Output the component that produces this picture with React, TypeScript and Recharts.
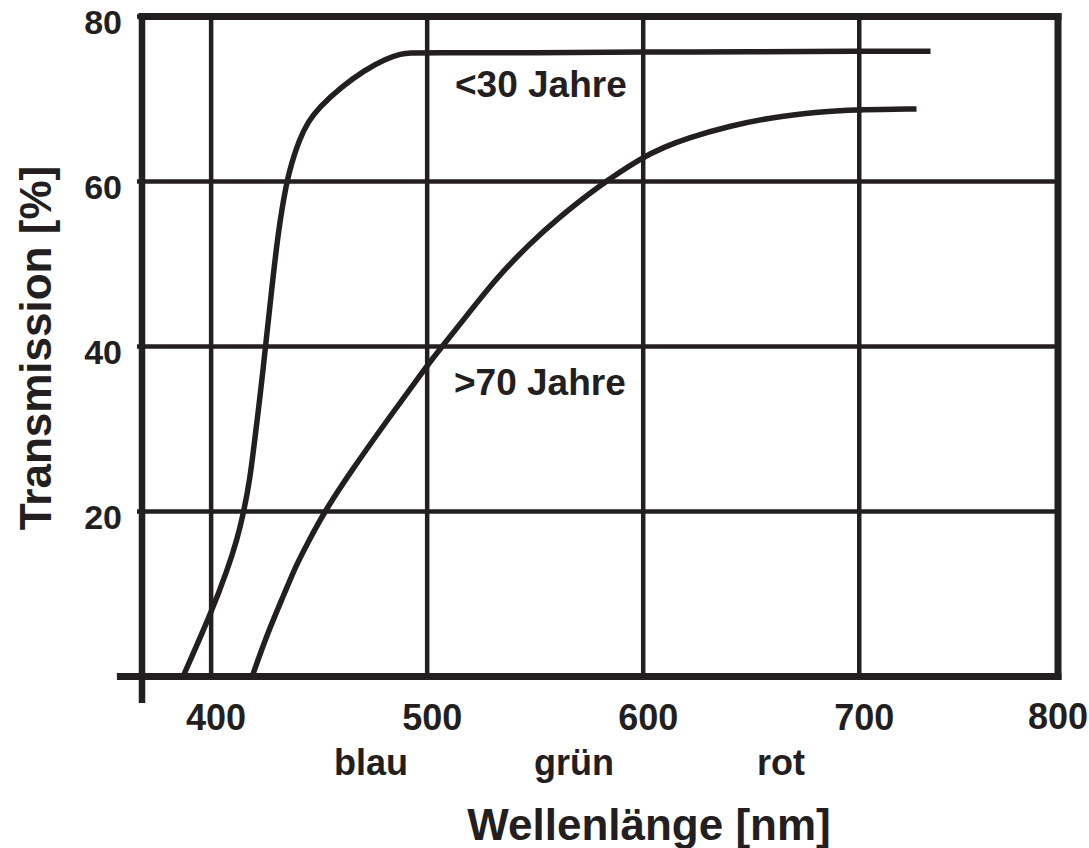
import { LineChart, Line, XAxis, YAxis, CartesianGrid, ReferenceLine } from "recharts"

const ink = "#231f20"
const font = "'Liberation Sans', Arial, Helvetica, sans-serif"

// axis setup (the drawn frame ends a bit before 800 nm, but is labelled 800)
const xMin = 368
const xMax = 792
const xTicks = [400, 500, 600, 700]
const xEndLabel = "800"
const yTicks = [20, 40, 60, 80]

// <30 Jahre
const wlUnder30 = [387, 400, 407.5, 412, 415, 418, 420, 423, 425, 427.5, 431, 435, 437, 441, 445, 450, 460, 471, 481, 488, 492, 500, 550, 600, 650, 700, 733]
const tUnder30 = [0, 7.7, 12.9, 16.6, 19.8, 24, 28.3, 34.7, 39.6, 45.6, 54, 60, 62, 65.2, 67.3, 69, 71.4, 73.5, 74.9, 75.5, 75.6, 75.6, 75.6, 75.7, 75.7, 75.8, 75.8]

// >70 Jahre
const wlOver70 = [419, 426, 434, 439, 444.5, 452.5, 464.5, 483, 500, 506, 517, 532, 548, 560, 578.5, 600, 610, 620, 639, 664, 690, 700, 726.5]
const tOver70 = [0, 5.2, 10.1, 13.3, 16.1, 20, 24.8, 31.6, 37.7, 39.7, 43.3, 48.3, 52.6, 55.4, 59.3, 63, 64.2, 65.2, 66.7, 68, 68.6, 68.7, 68.8]

const under30 = wlUnder30.map((wl, i) => ({ wl, t: tUnder30[i] }))
const over70 = wlOver70.map((wl, i) => ({ wl, t: tOver70[i] }))

const YTick = ({ x, y, payload }: any) => (
  <text x={x} y={y + 17} textAnchor="end" fontSize={34} fontWeight={700} fontFamily={font} fill={ink}>
    {payload.value}
  </text>
)

const XTick = ({ x, y, payload }: any) => (
  <text x={x + 5} y={y + 53.5} textAnchor="middle" fontSize={36} fontWeight={700} fontFamily={font} fill={ink}>
    {payload.value}
  </text>
)

const txt = { fontFamily: font, fontWeight: 700, fill: ink }

export default function App() {
  return (
    <div style={{ position: "absolute", left: 0, top: 0, width: 1089, height: 848, background: "#fff" }}>
      <LineChart width={1089} height={848} margin={{ top: 16.5, right: 31, left: 0, bottom: 111.5 }}>
        <CartesianGrid stroke={ink} strokeWidth={4.5} />
        <XAxis
          type="number"
          dataKey="wl"
          domain={[xMin, xMax]}
          ticks={xTicks}
          interval={0}
          allowDataOverflow
          axisLine={false}
          tickLine={false}
          tickSize={0}
          tickMargin={0}
          height={60}
          tick={<XTick />}
        />
        <YAxis
          type="number"
          domain={[0, 80]}
          ticks={yTicks}
          interval={0}
          width={142}
          axisLine={false}
          tickSize={5}
          tickMargin={15}
          tickLine={{ stroke: ink, strokeWidth: 4.5 }}
          tick={<YTick />}
        />
        <ReferenceLine y={80} stroke={ink} strokeWidth={7} strokeLinecap="square" />
        <ReferenceLine
          x={xMax}
          stroke={ink}
          strokeWidth={7}
          strokeLinecap="square"
          label={{ value: xEndLabel, position: "bottom", offset: 26.5, fill: ink, fontSize: 36, fontWeight: 700, fontFamily: font }}
        />
        <ReferenceLine
          segment={[{ x: xMin, y: -3.2 }, { x: xMin, y: 80 }]}
          ifOverflow="visible"
          stroke={ink}
          strokeWidth={6.5}
        />
        <ReferenceLine
          segment={[{ x: 358, y: 0 }, { x: xMax, y: 0 }]}
          ifOverflow="visible"
          stroke={ink}
          strokeWidth={7}
          strokeLinecap="square"
        />
        <Line data={under30} dataKey="t" type="basis" stroke={ink} strokeWidth={5.5} dot={false} isAnimationActive={false} />
        <Line data={over70} dataKey="t" type="basis" stroke={ink} strokeWidth={5.5} dot={false} isAnimationActive={false} />
      </LineChart>
      <svg width={1089} height={848} style={{ position: "absolute", left: 0, top: 0, pointerEvents: "none" }}>
        <text x={455} y={97} fontSize={37} {...txt}>&lt;30 Jahre</text>
        <text x={454} y={395} fontSize={37} {...txt}>&gt;70 Jahre</text>
        <text x={371} y={775} fontSize={36} textAnchor="middle" {...txt}>blau</text>
        <text x={574} y={775} fontSize={36} textAnchor="middle" {...txt}>grün</text>
        <text x={781} y={775} fontSize={36} textAnchor="middle" {...txt}>rot</text>
        <text x={649} y={840} fontSize={44} textAnchor="middle" {...txt}>Wellenlänge [nm]</text>
        <text transform="translate(51,348) rotate(-90)" fontSize={44} textAnchor="middle" {...txt}>Transmission [%]</text>
      </svg>
    </div>
  )
}
